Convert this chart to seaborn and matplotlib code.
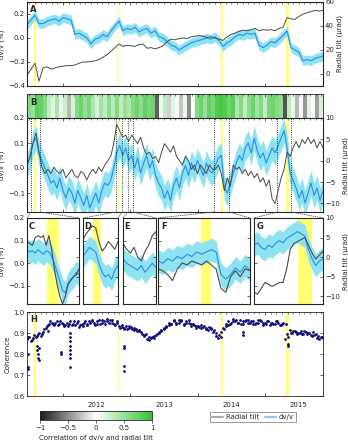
import numpy as np
import pandas as pd
import matplotlib
matplotlib.use('Agg')
import matplotlib.pyplot as plt
import seaborn as sns
from matplotlib.colors import LinearSegmentedColormap
from matplotlib.patches import ConnectionPatch
from matplotlib.lines import Line2D

sns.set_style('white')
plt.rcParams['font.family'] = ['DejaVu Sans']

# ---------------- data ----------------
t_start, t_end = 2011.465, 2015.86

# panel A: long-term dv/v (%) and radial tilt (urad)
dvv_A = [0.11, 0.15, 0.19, 0.12, 0.12, 0.14, 0.15, 0.16, 0.14, 0.17, 0.16, 0.15, 0.03, 0.04, 0.02,
         0.0, -0.05, -0.01, 0.0, 0.03, 0.01, 0.06, 0.10, 0.14, 0.06, 0.08, 0.07, 0.09, 0.05, 0.07,
         0.08, 0.04, 0.06, 0.01, 0.0, -0.03, -0.06, -0.07, -0.10, -0.08, -0.06, -0.04, -0.03, -0.02, -0.01,
         0.0, -0.01, 0.01, -0.02, -0.07, -0.04, -0.02, 0.01, 0.03, 0.02, 0.04, 0.03, 0.04, -0.06, -0.08,
         -0.06, -0.03, -0.04, -0.01, 0.02, 0.06, -0.08, -0.10, -0.12, -0.19, -0.18, -0.19, -0.17, -0.16, -0.15]
tilt_A = [-1, 4, 9, -6, 5, 6, 4, 5, 6, 6.5, 7, 7, 7.5, 9, 10, 10, 10.5, 11, 12, 14, 16, 19, 22, 25, 23,
          24, 23.5, 23, 24.5, 25, 21.5, 22, 21, 22, 23.5, 27, 29, 28.5, 29.5, 30, 29.5, 31, 31.5, 32, 31.5,
          30.5, 31, 30, 29, 28, 31, 33, 34, 35.5, 36.5, 36, 37, 38, 36, 37, 36.5, 37, 36, 38, 39, 47, 46,
          45.5, 48, 50, 51, 52, 53, 52.5, 53]
err_A = 0.04

# panel B: short-term dv/v and tilt
dvv_B = [0.01, 0.04, 0.10, 0.12, 0.06, 0.03, 0.0, -0.03, -0.06, -0.05, -0.08, -0.04, -0.09, -0.12, -0.08,
         -0.10, -0.14, -0.09, -0.12, -0.15, -0.11, -0.16, -0.13, -0.10, -0.14, -0.09, -0.06, -0.07, -0.05, 0.0,
         0.06, 0.09, 0.05, 0.08, 0.03, 0.05, 0.0, 0.04, -0.02, 0.02, 0.05, 0.0, 0.03, -0.03, -0.06,
         -0.08, -0.12, -0.09, -0.13, -0.07, -0.04, -0.08, -0.02, 0.01, -0.03, 0.02, -0.01, 0.03, 0.0, -0.03,
         0.02, -0.01, -0.02, 0.01, 0.04, 0.05, -0.08, -0.10, -0.06, -0.02, 0.02, 0.05, 0.03, 0.08, 0.10,
         0.06, 0.12, 0.07, 0.04, 0.06, 0.02, 0.05, 0.08, 0.06, 0.09, 0.12, 0.15, 0.08, -0.02, -0.05,
         -0.08, -0.12, -0.09, -0.14, -0.10, -0.06, -0.11, -0.08, -0.13, -0.09]
tilt_B = [-1, 1, 4, 6.5, 2, -1.5, -3, -2, -3, -1.5, -2.5, -3, -2, -4, -3, -2, -3.5, -4, -2.5, -3,
          -4.5, -3, -2, -3, -1.5, -2.5, -1, 0, 1, 4, 8.5, 7, 5.5, 6, 4.5, 6, 5, 4, 5.5, 3,
          1.5, 2, 0.5, 1, -0.5, 2, 4, 3, 2, 3.5, 1, 0, -1, 1, 0, -2, -1, -3, -1, -2,
          -3, -1, -2, -2, -1, -3, -7, -4, -6, -1, -2, -1.5, -3, -2, -3.5, -2.5, -4, -3, -5, -4,
          -6, -4.5, -9, -10, -7, -4, -2, 2, 1, 3, 4.5, 3, 5, 4, 5.5, 4, 5, 3, 4.5, 3]
err_B = 0.05

# correlation of dv/v and radial tilt (strip above panel B)
corr = [0.6, 0.5, 0.8, 0.75, 0.6, 0.3, 0.15, 0.4, 0.1, 0.25, -0.3, 0.2, 0.6, 0.7, 0.5, 0.65, 0.4, 0.2,
        0.45, 0.3, 0.55, 0.35, 0.6, 0.3, 0.5, 0.4, 0.6, 0.7, 0.55, 0.75, 0.65, 0.7, -0.7, 0.1, 0.3, -0.2,
        0.15, 0.05, -0.25, 0.1, -0.5, 0.0, 0.6, 0.7, 0.5, 0.75, 0.65, 0.85, 0.9, 0.85, 0.7, 0.8, 0.4, 0.6,
        0.3, 0.55, 0.7, 0.45, 0.6, 0.3, 0.65, 0.7, 0.6, 0.55, -0.75, 0.3, 0.1, -0.3, 0.05, -0.45, 0.15,
        0.0, -0.4, 0.2]

# zoom windows C-G
windows = {
    'C': (2011.52, 2011.66),
    'D': (2012.79, 2012.88),
    'E': (2012.965, 2013.04),
    'F': (2014.24, 2014.466),
    'G': (2015.18, 2015.39),
}
dvv_C = [0.06, 0.05, 0.055, 0.045, 0.06, 0.05, 0.04, 0.055, 0.05, 0.03, 0.0, -0.04, -0.08, -0.12, -0.13,
         -0.09, -0.07, -0.06, -0.04, -0.05]
tilt_C = [4, 3.5, 3, 5, 5.5, 5, 5.5, 3, 5.5, 2, -3, -7, -10, -12, -10, -7, -6, -5, -4.5, -3]
dvv_D = [0.03, 0.05, 0.07, 0.06, 0.05, 0.0, -0.04, -0.06, -0.05, -0.07, -0.03, -0.01]
tilt_D = [4.5, 6, 7, 8, 7.5, 4, 1.5, 2.5, 4, 3, 2, 4]
dvv_E = [0.02, 0.0, -0.01, -0.02, -0.03, -0.01, -0.04, -0.02, 0.0, -0.02]
tilt_E = [3.5, 2, 1, 2.5, 0, -1, 1.5, 3, 5.5, 6.5]
dvv_F = [0.01, 0.0, 0.02, 0.01, 0.03, 0.02, 0.04, 0.03, 0.05, 0.04, 0.05, 0.06, 0.05, -0.05, -0.07,
         -0.05, -0.02, -0.04, -0.01, -0.03]
tilt_F = [-3, -3.5, -4.5, -6, -3, -1.5, -2, -1, -1.5, -2, -1, -2, -3, -8, -9, -5, -3.5, -5, -3, -3.5]
dvv_G = [0.08, 0.09, 0.07, 0.06, 0.08, 0.07, 0.09, 0.10, 0.09, 0.11, 0.12, 0.13, 0.14, 0.13, 0.12,
         0.06, 0.02, -0.01, 0.01, 0.02]
tilt_G = [-9, -9.5, -8, -6.5, -7, -7.5, -7, -6.5, -6.5, -3, 2, 3.5, 4, 4.5, 5, 3, 1, -0.5, 0.5, 1.5]
zoom_dvv = {'C': dvv_C, 'D': dvv_D, 'E': dvv_E, 'F': dvv_F, 'G': dvv_G}
zoom_tilt = {'C': tilt_C, 'D': tilt_D, 'E': tilt_E, 'F': tilt_F, 'G': tilt_G}

# panel H: coherence (two interleaved samplings of the dotted band)
coh = [0.87, 0.88, 0.865, 0.89, 0.885, 0.90, 0.895, 0.92, 0.935, 0.945, 0.95, 0.94, 0.955, 0.945, 0.95,
       0.935, 0.95, 0.945, 0.94, 0.955, 0.95, 0.93, 0.945, 0.95, 0.94, 0.955, 0.96, 0.95, 0.945, 0.96,
       0.95, 0.955, 0.965, 0.95, 0.96, 0.945, 0.95, 0.935, 0.93, 0.92, 0.935, 0.925, 0.93, 0.915, 0.92,
       0.91, 0.905, 0.89, 0.895, 0.88, 0.875, 0.885, 0.89, 0.90, 0.91, 0.92, 0.93, 0.94, 0.945, 0.955,
       0.95, 0.96, 0.955, 0.945, 0.95, 0.96, 0.945, 0.94, 0.935, 0.93, 0.94, 0.935, 0.925, 0.93, 0.92,
       0.915, 0.90, 0.89, 0.88, 0.92, 0.935, 0.94, 0.95, 0.955, 0.96, 0.95, 0.945, 0.955, 0.96, 0.95,
       0.955, 0.945, 0.95, 0.96, 0.955, 0.95, 0.945, 0.955, 0.95, 0.945, 0.955, 0.95, 0.94, 0.95, 0.945,
       0.88, 0.90, 0.91, 0.905, 0.90, 0.91, 0.895, 0.905, 0.90, 0.89, 0.905, 0.895, 0.885, 0.88, 0.875]
coh2 = [0.88, 0.86, 0.875, 0.88, 0.895, 0.885, 0.905, 0.925, 0.94, 0.955, 0.945, 0.95, 0.94, 0.955, 0.945,
        0.94, 0.935, 0.955, 0.945, 0.94, 0.955, 0.94, 0.935, 0.955, 0.945, 0.95, 0.955, 0.94, 0.955, 0.945,
        0.96, 0.945, 0.955, 0.96, 0.95, 0.94, 0.955, 0.925, 0.94, 0.925, 0.92, 0.935, 0.92, 0.925, 0.91,
        0.915, 0.895, 0.885, 0.87, 0.865, 0.88, 0.875, 0.895, 0.905, 0.915, 0.925, 0.935, 0.95, 0.945, 0.96,
        0.945, 0.95, 0.96, 0.94, 0.955, 0.95, 0.935, 0.945, 0.925, 0.935, 0.925, 0.93, 0.92, 0.915, 0.925,
        0.905, 0.885, 0.875, 0.905, 0.925, 0.945, 0.955, 0.945, 0.965, 0.955, 0.95, 0.96, 0.945, 0.955, 0.96,
        0.95, 0.955, 0.945, 0.95, 0.96, 0.94, 0.95, 0.955, 0.94, 0.95, 0.945, 0.955, 0.94, 0.945, 0.87,
        0.895, 0.915, 0.90, 0.91, 0.895, 0.90, 0.895, 0.91, 0.895, 0.90, 0.885, 0.89, 0.875, 0.87, 0.88]
coh_out_t = [2011.48, 2011.48, 2011.48, 2011.61, 2011.61, 2011.63, 2011.63, 2011.645, 2011.645, 2011.78,
             2011.97, 2011.97, 2012.105, 2012.105, 2012.105, 2012.105, 2012.105, 2012.105, 2012.105,
             2012.105, 2012.905, 2012.905, 2012.905, 2012.905, 2014.675, 2014.675, 2015.345, 2015.345]
coh_out_v = [0.74, 0.73, 0.80, 0.84, 0.82, 0.80, 0.78, 0.77, 0.83, 0.91, 0.81, 0.80, 0.90, 0.88, 0.86,
             0.84, 0.82, 0.80, 0.78, 0.74, 0.84, 0.83, 0.745, 0.72, 0.905, 0.89, 0.85, 0.84]

# eruption / event periods (yellow)
events = [(2011.574, 2011.606), (2012.815, 2012.835), (2014.345, 2014.37), (2015.315, 2015.357)]

# ---------------- styling ----------------
c_blue = '#2a8cf0'
c_band = '#8ee3f0'
c_tilt = '#4a4a4a'
c_yel = '#ffff70'
c_dot = '#0c0c78'
fs = 5

W, H = 348, 440
fig = plt.figure(figsize=(W / 100, H / 100), dpi=100)


def box(l, t, r, b):
    return [l / W, 1 - b / H, (r - l) / W, (b - t) / H]


def style(ax):
    ax.tick_params(direction='in', length=2, width=0.5, labelsize=fs, pad=1.5,
                   top=True, bottom=True, left=True, right=False)
    for s in ax.spines.values():
        s.set_linewidth(0.6)


def year_ticks(ax, labels=False):
    ax.set_xticks(np.arange(2012, 2016))
    ax.set_xticks(np.arange(2011.5, 2015.9, 1 / 12), minor=True)
    ax.tick_params(which='minor', direction='in', length=1.2, width=0.4, top=True)
    ax.set_xticklabels([])
    if labels:
        for y in range(2012, 2016):
            ax.text(y + 0.5, -0.07, str(y), transform=ax.get_xaxis_transform(),
                    ha='center', va='top', fontsize=fs)


def bands(ax):
    for a, b in events:
        ax.axvspan(a, b, color=c_yel, lw=0, zorder=0)


tA = np.linspace(t_start, t_end, len(dvv_A))
tB = np.linspace(t_start, t_end, len(dvv_B))

# ---------------- panel A ----------------
axA = fig.add_axes(box(27, 2, 323, 86))
style(axA)
bands(axA)
lo = np.array(dvv_A) - err_A
hi = np.array(dvv_A) + err_A
axA.fill_between(tA, lo, hi, color=c_band, lw=0, zorder=1)
sns.lineplot(x=tA, y=dvv_A, ax=axA, color=c_blue, lw=0.8, zorder=2)
axA.set_xlim(t_start, t_end)
axA.set_ylim(-0.4, 0.3)
axA.set_ylabel('dv/v (%)', fontsize=fs, labelpad=2)
year_ticks(axA)
axA2 = axA.twinx()
sns.lineplot(x=tA, y=tilt_A, ax=axA2, color=c_tilt, lw=0.7)
axA2.set_ylim(-10, 60)
axA2.tick_params(direction='in', length=2, width=0.5, labelsize=fs, pad=1.5)
axA2.set_ylabel('Radial tilt (µrad)', fontsize=fs, labelpad=2)
axA.text(0.01, 0.97, 'A', transform=axA.transAxes, fontsize=fs + 1, fontweight='bold', va='top')

# ---------------- panel B strip ----------------
axS = fig.add_axes(box(27, 94, 323, 118))
cmap = LinearSegmentedColormap.from_list('cg', ['#1a1a1a', '#ffffff', '#33c333'])
axS.imshow(np.array(corr)[None, :], aspect='auto', cmap=cmap, vmin=-1, vmax=1,
           extent=[t_start, t_end, 0, 1], interpolation='nearest')
axS.set_xlim(t_start, t_end)
axS.set_yticks([])
year_ticks(axS)
for s in axS.spines.values():
    s.set_linewidth(0.6)
axS.tick_params(direction='in', length=2, width=0.5, top=True, bottom=False)
axS.text(0.01, 0.85, 'B', transform=axS.transAxes, fontsize=fs + 1, fontweight='bold', va='top')

# ---------------- panel B ----------------
axB = fig.add_axes(box(27, 118, 323, 212))
style(axB)
bands(axB)
lo = np.array(dvv_B) - err_B
hi = np.array(dvv_B) + err_B
axB.fill_between(tB, lo, hi, color=c_band, lw=0, zorder=1)
sns.lineplot(x=tB, y=dvv_B, ax=axB, color=c_blue, lw=0.8, zorder=2)
axB.set_xlim(t_start, t_end)
axB.set_ylim(-0.176, 0.2)
axB.set_yticks([-0.1, 0.0, 0.1, 0.2])
axB.set_ylabel('dv/v (%)', fontsize=fs, labelpad=2)
year_ticks(axB)
axB2 = axB.twinx()
sns.lineplot(x=tB, y=tilt_B, ax=axB2, color=c_tilt, lw=0.7)
axB2.set_ylim(-12, 10)
axB2.set_yticks([-10, -5, 0, 5, 10])
axB2.tick_params(direction='in', length=2, width=0.5, labelsize=fs, pad=1.5)
axB2.set_ylabel('Radial tilt (µrad)', fontsize=fs, labelpad=2)
for a, b in windows.values():
    for v in (a, b):
        axB.axvline(v, color='k', ls=':', lw=0.6, zorder=3)

# ---------------- panels C-G ----------------
pos = {'C': (27, 79), 'D': (83, 118), 'E': (123, 156), 'F': (158, 250), 'G': (254, 323)}
for k, (l, r) in pos.items():
    ax = fig.add_axes(box(l, 218, r, 304))
    style(ax)
    a, b = windows[k]
    t = np.linspace(a, b, len(zoom_dvv[k]))
    bands(ax)
    d = np.array(zoom_dvv[k])
    ax.fill_between(t, d - err_B, d + err_B, color=c_band, lw=0, zorder=1)
    sns.lineplot(x=t, y=d, ax=ax, color=c_blue, lw=0.8, zorder=2)
    ax.set_xlim(a, b)
    ax.set_ylim(-0.18, 0.2)
    ax.set_yticks([-0.1, 0.0, 0.1, 0.2])
    ax.set_xticks([])
    ax2 = ax.twinx()
    sns.lineplot(x=t, y=zoom_tilt[k], ax=ax2, color=c_tilt, lw=0.8)
    ax2.set_ylim(-12, 10)
    ax2.set_yticks([-10, -5, 0, 5, 10])
    ax2.tick_params(direction='in', length=2, width=0.5, labelsize=fs, pad=1.5)
    if k == 'C':
        ax.set_ylabel('dv/v (%)', fontsize=fs, labelpad=2)
    else:
        ax.set_yticklabels([])
    if k == 'G':
        ax2.set_ylabel('Radial tilt (µrad)', fontsize=fs, labelpad=2)
    else:
        ax2.set_yticklabels([])
    ax.text(0.04, 0.95, k, transform=ax.transAxes, fontsize=fs + 1, fontweight='bold', va='top')
    for xa, xb in ((a, 0), (b, 1)):
        con = ConnectionPatch(xyA=(xa, -0.176), coordsA=axB.transData,
                              xyB=(xb, 1), coordsB=ax.transAxes,
                              color='0.3', ls=':', lw=0.6)
        fig.add_artist(con)

# ---------------- panel H ----------------
axH = fig.add_axes(box(27, 312, 323, 396))
style(axH)
bands(axH)
step = (t_end - t_start) / (len(coh) - 1)
tH = np.linspace(t_start, t_end, len(coh))
tH2 = np.linspace(t_start + step / 2, t_end - step / 2, len(coh2))
sns.scatterplot(x=tH, y=coh, ax=axH, color=c_dot, s=4, linewidth=0, zorder=2)
sns.scatterplot(x=tH2, y=coh2, ax=axH, color=c_dot, s=4, linewidth=0, zorder=2)
sns.scatterplot(x=coh_out_t, y=coh_out_v, ax=axH, color=c_dot, s=4, linewidth=0, zorder=2)
axH.set_xlim(t_start, t_end)
axH.set_ylim(0.6, 1.0)
axH.set_yticks([0.6, 0.7, 0.8, 0.9, 1.0])
axH.tick_params(right=True)
axH.set_ylabel('Coherence', fontsize=fs, labelpad=2)
year_ticks(axH, labels=True)
axH.text(0.01, 0.97, 'H', transform=axH.transAxes, fontsize=fs + 1, fontweight='bold', va='top')

# ---------------- colorbar and legend ----------------
cax = fig.add_axes(box(40, 411, 152, 420))
sm = plt.cm.ScalarMappable(cmap=cmap, norm=plt.Normalize(-1, 1))
cb = fig.colorbar(sm, cax=cax, orientation='horizontal', ticks=[-1, -0.5, 0, 0.5, 1])
cb.ax.set_xticklabels(['\u22121', '\u22120.5', '0', '0.5', '1'])
cb.ax.tick_params(labelsize=fs, length=2, width=0.5, pad=1.5)
cb.outline.set_linewidth(0.6)
cb.set_label('Correlation of dv/v and radial tilt', fontsize=fs, labelpad=3)

handles = [Line2D([], [], color='#aaaaaa', lw=1.5), Line2D([], [], color='#88c8f0', lw=1.5)]
fig.legend(handles, ['Radial tilt', 'dv/v'], loc='center', bbox_to_anchor=(253 / W, 1 - 417 / H),
           ncol=2, fontsize=fs, frameon=True, fancybox=False, edgecolor='0.3', handlelength=1.6,
           columnspacing=0.8, handletextpad=0.4, borderpad=0.3).get_frame().set_linewidth(0.5)

fig.savefig('out.png', dpi=100)
